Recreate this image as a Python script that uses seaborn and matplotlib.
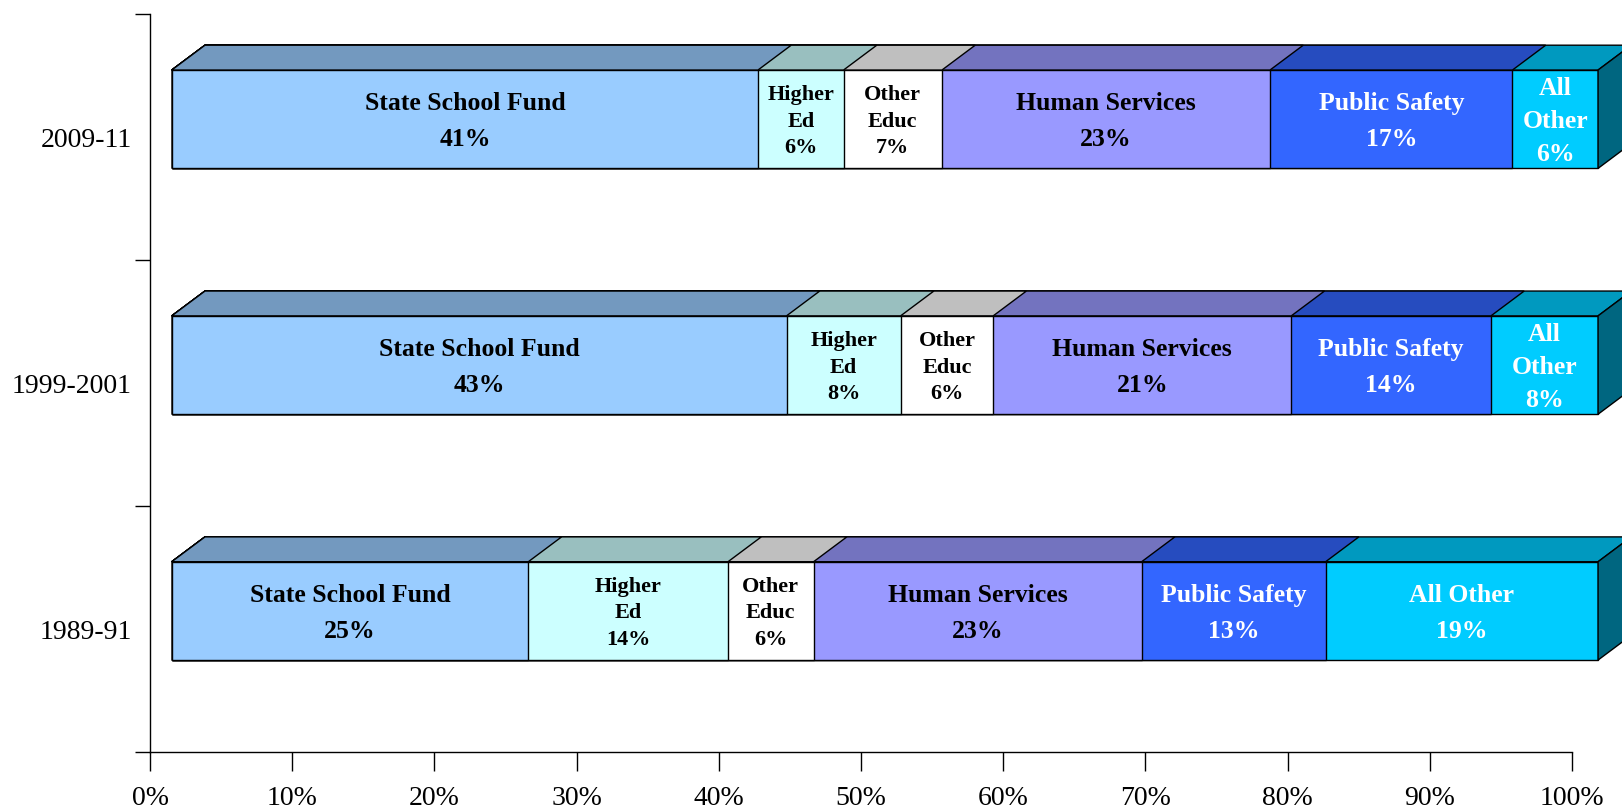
import numpy as np
import pandas as pd
import seaborn as sns
import matplotlib
matplotlib.use('Agg')
import matplotlib.pyplot as plt
import matplotlib.transforms as mtransforms
from matplotlib.patches import Polygon

periods = ["2009-11", "1999-2001", "1989-91"]
segments = ["State School Fund", "Higher Ed", "Other Educ", "Human Services", "Public Safety", "All Other"]
share_2009 = [41.1, 6.0, 6.9, 23.0, 17.0, 6.0]
share_1999 = [43.1, 8.0, 6.49, 20.9, 14.0, 7.51]
share_1989 = [25.0, 14.0, 6.0, 23.0, 12.9, 19.1]

front_colors = ["#99CCFF", "#CCFFFF", "#FFFFFF", "#9999FF", "#3366FF", "#00CCFF"]
top_colors = ["#7399BF", "#99BFBF", "#BFBFBF", "#7373BF", "#264CBF", "#0099BF"]
side_color = "#006680"
text_colors = ["black", "black", "black", "black", "white", "white"]
wrapped = {"Higher Ed": "Higher\nEd", "Other Educ": "Other\nEduc", "All Other": "All\nOther"}

# long table with stacked start / end
rows = []
for period, shares in zip(periods, [share_2009, share_1999, share_1989]):
    ends = np.cumsum(shares)
    for seg, val, end in zip(segments, shares, ends):
        rows.append({"period": period, "segment": seg, "share": val, "start": end - val, "end": end})
df = pd.DataFrame(rows)

sns.set_style("ticks")
plt.rcParams['font.family'] = ['Liberation Serif', 'DejaVu Serif']

fig = plt.figure(figsize=(16.22, 8.08), dpi=100)
ax = fig.add_axes([0.0925, 0.0693, 0.8767, 0.9128])

# 3d look: front face is pushed right/up, top face and side face add depth
shift_x, shift_y = 1.53, -0.074
depth_x, depth_y = 2.33, 0.101
front = mtransforms.Affine2D().scale(1.003, 1).translate(shift_x, shift_y) + ax.transData

for i in reversed(range(len(segments))):
    sub = df[df.segment == segments[i]]
    n_before = len(ax.patches)
    sns.barplot(data=sub, x="end", y="period", order=periods, color=front_colors[i],
                saturation=1, edgecolor="black", linewidth=1.0, width=0.4,
                errorbar=None, ax=ax)
    for p in ax.patches[n_before:]:
        p.set_transform(front)
        p.set_clip_on(False)
        x0, x1 = p.get_x(), p.get_x() + p.get_width()
        y0, h = p.get_y(), p.get_height()
        top = Polygon([(x0, y0), (x1, y0), (x1 + depth_x, y0 - depth_y), (x0 + depth_x, y0 - depth_y)],
                      closed=True, facecolor=top_colors[i], edgecolor="black", linewidth=1.0,
                      transform=front, clip_on=False)
        ax.add_patch(top)
        if i == len(segments) - 1:
            side = Polygon([(x1, y0), (x1 + depth_x, y0 - depth_y), (x1 + depth_x, y0 + h - depth_y), (x1, y0 + h)],
                           closed=True, facecolor=side_color, edgecolor="black", linewidth=1.0,
                           transform=front, clip_on=False)
            ax.add_patch(side)

# segment labels
for _, r in df.iterrows():
    j = periods.index(r.period)
    i = segments.index(r.segment)
    name = r.segment
    if name in ("Higher Ed", "Other Educ"):
        txt, fs, ls = wrapped[name] + f"\n{r.share:.0f}%", 16, 1.45
    elif name == "All Other" and r.share < 10:
        txt, fs, ls = wrapped[name] + f"\n{r.share:.0f}%", 18.5, 1.55
    else:
        txt, fs, ls = name + f"\n{r.share:.0f}%", 18.5, 1.75
    ax.text(r.start + r.share / 2, j + 0.01, txt, transform=front, ha="center", va="center",
            fontsize=fs, fontweight="bold", color=text_colors[i], linespacing=ls, clip_on=False)

ax.set_xlim(0, 100)
ax.set_ylim(2.5, -0.5)
ax.set_xticks(range(0, 101, 10))
ax.set_xticklabels([f"{v}%" for v in range(0, 101, 10)])
ax.set_yticks(range(len(periods)))
ax.set_yticklabels(periods)
ax.set_yticks([-0.5, 0.5, 1.5, 2.5], minor=True)
ax.set_xlabel("")
ax.set_ylabel("")

ax.tick_params(axis="x", length=13.4, width=1, pad=11, labelsize=20, colors="black")
ax.tick_params(axis="y", which="major", length=0, pad=13, labelsize=20, colors="black")
ax.tick_params(axis="y", which="minor", length=11, width=1, color="black")
sns.despine(ax=ax)
for s in ["left", "bottom"]:
    ax.spines[s].set_color("black")
    ax.spines[s].set_linewidth(1.0)

fig.savefig("out.png", dpi=100)
